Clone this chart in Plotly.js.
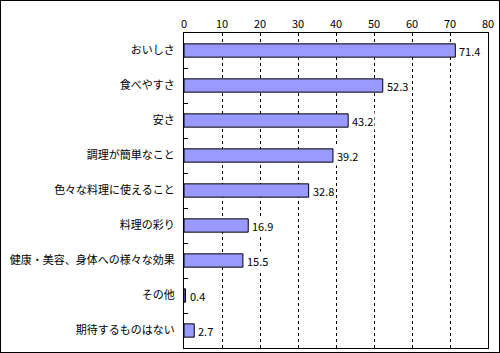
<!DOCTYPE html>
<html>
<head>
<meta charset="utf-8">
<script src="https://cdn.plot.ly/plotly-3.0.1.min.js"></script>
<style>
html,body{margin:0;padding:0;background:#fff;}
#wrap{width:500px;height:353px;box-sizing:border-box;border:1px solid #000;position:relative;overflow:hidden;}
#chart{position:absolute;left:-1px;top:-1px;width:500px;height:353px;}
</style>
</head>
<body>
<div id="wrap"><div id="chart"></div></div>
<script>
const categories = ["おいしさ","食べやすさ","安さ","調理が簡単なこと","色々な料理に使えること","料理の彩り","健康・美容、身体への様々な効果","その他","期待するものはない"];
const values = [71.4, 52.3, 43.2, 39.2, 32.8, 16.9, 15.5, 0.4, 2.7];
const xTicks = [0,10,20,30,40,50,60,70,80];

const font = "'Noto Sans CJK JP', 'Noto Sans', sans-serif";
const annotations = values.map((v, i) => ({
  x: v, y: categories[i], xref: 'x', yref: 'y',
  text: v.toFixed(1), showarrow: false, xanchor: 'left', xshift: 2,
  bgcolor: '#fff', borderpad: 1,
  font: {family: font, size: 11, color: '#000'}
}));
Plotly.newPlot('chart', [{
  type: 'bar',
  orientation: 'h',
  x: values,
  y: categories,
  marker: {color: '#9999FF', line: {color: '#000', width: 1}},
  hoverinfo: 'none'
}], {
  width: 500, height: 353,
  margin: {l: 184, r: 12, t: 33, b: 5},
  paper_bgcolor: '#fff', plot_bgcolor: '#fff',
  bargap: 0.62,
  showlegend: false,
  annotations: annotations,
  font: {family: font, size: 11, color: '#000'},
  xaxis: {
    side: 'top', range: [0, 80], tickvals: xTicks, ticktext: xTicks.map(String),
    showgrid: true, gridcolor: '#000', gridwidth: 1, griddash: '3px,3px',
    zeroline: false, showline: true, linecolor: '#000', linewidth: 1, mirror: true,
    ticks: '', tickfont: {family: font, size: 11, color: '#000'}, fixedrange: true
  },
  yaxis: {
    type: 'category', autorange: 'reversed', tickson: 'boundaries',
    ticks: 'inside', ticklen: 4, tickcolor: '#000', showgrid: false,
    showline: true, linecolor: '#000', linewidth: 1, mirror: true,
    ticklabelstandoff: 6,
    tickfont: {family: font, size: 11, color: '#000'}, fixedrange: true
  }
}, {staticPlot: true});
</script>
</body>
</html>
